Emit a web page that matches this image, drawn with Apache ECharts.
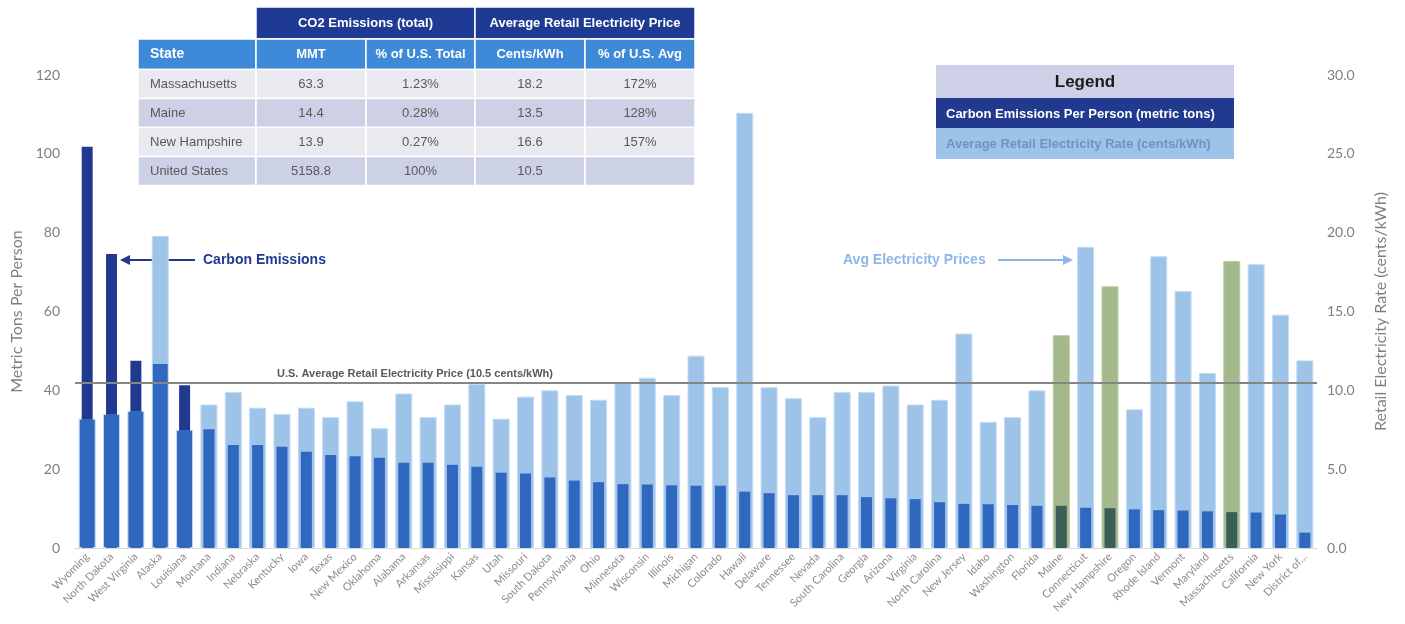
<!DOCTYPE html>
<html>
<head>
<meta charset="utf-8">
<script src="https://cdn.jsdelivr.net/npm/echarts@6/dist/echarts.min.js"></script>
<style>
  html, body { margin: 0; padding: 0; background: #fff; }
  #main { width: 1405px; height: 624px; }
</style>
</head>
<body>
<div id="main"></div>
<script>
var states = ['Wyoming', 'North Dakota', 'West Virginia', 'Alaska', 'Louisiana', 'Montana', 'Indiana', 'Nebraska', 'Kentucky', 'Iowa',
  'Texas', 'New Mexico', 'Oklahoma', 'Alabama', 'Arkansas', 'Mississippi', 'Kansas', 'Utah', 'Missouri', 'South Dakota',
  'Pennsylvania', 'Ohio', 'Minnesota', 'Wisconsin', 'Illinois', 'Michigan', 'Colorado', 'Hawaii', 'Delaware', 'Tennessee',
  'Nevada', 'South Carolina', 'Georgia', 'Arizona', 'Virginia', 'North Carolina', 'New Jersey', 'Idaho', 'Washington', 'Florida',
  'Maine', 'Connecticut', 'New Hampshire', 'Oregon', 'Rhode Island', 'Vermont', 'Maryland', 'Massachusetts', 'California', 'New York',
  'District of...']

// metric tons per person (left axis)
var emissions = [101.8, 74.6, 47.5, 46.6, 41.3, 30.1, 26.1, 26.1, 25.7, 24.4,
  23.6, 23.3, 22.9, 21.6, 21.6, 21.1, 20.6, 19.1, 18.9, 17.9,
  17.1, 16.7, 16.2, 16.1, 15.9, 15.8, 15.8, 14.3, 13.9, 13.4,
  13.4, 13.4, 12.9, 12.6, 12.4, 11.6, 11.2, 11.1, 10.9, 10.7,
  10.7, 10.2, 10.1, 9.8, 9.6, 9.5, 9.3, 9.1, 9.0, 8.5,
  3.9]

// cents/kWh (right axis)
var prices = [8.2, 8.5, 8.7, 19.8, 7.5, 9.1, 9.9, 8.9, 8.5, 8.9,
  8.3, 9.3, 7.6, 9.8, 8.3, 9.1, 10.4, 8.2, 9.6, 10.0,
  9.7, 9.4, 10.5, 10.8, 9.7, 12.2, 10.2, 27.6, 10.2, 9.5,
  8.3, 9.9, 9.9, 10.3, 9.1, 9.4, 13.6, 8.0, 8.3, 10.0,
  13.5, 19.1, 16.6, 8.8, 18.5, 16.3, 11.1, 18.2, 18.0, 14.8,
  11.9]

var usAvgPrice = 10.5
var highlighted = ['Maine', 'New Hampshire', 'Massachusetts']

var leftTicks = [0, 20, 40, 60, 80, 100, 120]
var rightTicks = [0, 5, 10, 15, 20, 25, 30]

// table shown in the upper left
var tableGroups = ['CO2 Emissions (total)', 'Average Retail Electricity Price']
var tableHeads = ['State', 'MMT', '% of U.S. Total', 'Cents/kWh', '% of U.S. Avg']
var tableRows = [
  ['Massachusetts', '63.3', '1.23%', '18.2', '172%'],
  ['Maine', '14.4', '0.28%', '13.5', '128%'],
  ['New Hampshire', '13.9', '0.27%', '16.6', '157%'],
  ['United States', '5158.8', '100%', '10.5', '']
]

var NAVY = '#21398f'
var MID = '#3068c0'
var LIGHT = '#9dc3e8'
var EDGE = '#c4dbf2'
var GREEN = '#a3b98b'
var DKGREEN = '#3b5f58'
var FONT = "'Liberation Sans Narrow', 'Liberation Sans', Arial, sans-serif"
var AXFONT = 'Lato, "Open Sans", sans-serif'

function split (top, bottom, f) {
  return {
    type: 'linear', x: 0, y: 0, x2: 0, y2: 1,
    colorStops: [
      {offset: 0, color: top}, {offset: f, color: top},
      {offset: f, color: bottom}, {offset: 1, color: bottom}
    ]
  }
}

// price scale (30) vs emissions scale (120)
var ratio = 120 / 30

var priceData = prices.map(function (p, i) {
  var green = highlighted.indexOf(states[i]) >= 0
  var color = green ? GREEN : LIGHT
  if (!green && emissions[i] >= 40) {
    var f = 1 - Math.min(emissions[i] / ratio, p) / p
    color = split(LIGHT, MID, f)
  }
  return {value: p, itemStyle: {color: color, borderColor: green ? '#bccda9' : EDGE}}
})

var emisData = emissions.map(function (e, i) {
  var green = highlighted.indexOf(states[i]) >= 0
  var f = 1 - Math.min(prices[i] * ratio, e) / e
  var color = green ? DKGREEN : (f > 0 ? split(NAVY, MID, f) : MID)
  return {value: e, itemStyle: {color: color}}
})

// table graphics
var tg = []
var colX = [138, 256, 366, 475, 585, 695]
var rowY = [7, 39, 69.5, 98.5, 127.5, 156.5, 185.5]
function cell (x, y, w, h, fill) {
  tg.push({type: 'rect', shape: {x: x, y: y, width: w, height: h}, style: {fill: fill, stroke: '#fff', lineWidth: 1.5}})
}
function txt (x, y, s, opt) {
  tg.push({type: 'text', x: x, y: y, style: Object.assign({text: s, font: '13px ' + FONT, fill: '#595959', align: 'center', verticalAlign: 'middle'}, opt || {})})
}
cell(colX[1], rowY[0], colX[3] - colX[1], rowY[1] - rowY[0], '#1f3a93')
cell(colX[3], rowY[0], colX[5] - colX[3], rowY[1] - rowY[0], '#1f3a93')
txt((colX[1] + colX[3]) / 2, (rowY[0] + rowY[1]) / 2, tableGroups[0], {fill: '#fff', font: 'bold 13px ' + FONT})
txt((colX[3] + colX[5]) / 2, (rowY[0] + rowY[1]) / 2, tableGroups[1], {fill: '#fff', font: 'bold 13px ' + FONT})
tableHeads.forEach(function (h, c) {
  cell(colX[c], rowY[1], colX[c + 1] - colX[c], rowY[2] - rowY[1], '#3e8ad8')
  var cx = c === 0 ? colX[0] + 12 : (colX[c] + colX[c + 1]) / 2
  txt(cx, (rowY[1] + rowY[2]) / 2, h, {fill: '#fff', font: 'bold ' + (c === 0 ? 14 : 13) + 'px ' + FONT, align: c === 0 ? 'left' : 'center'})
})
tableRows.forEach(function (row, r) {
  var fill = r % 2 === 0 ? '#e9e9f0' : '#cdd1e6'
  row.forEach(function (v, c) {
    cell(colX[c], rowY[r + 2], colX[c + 1] - colX[c], rowY[r + 3] - rowY[r + 2], fill)
    var cx = c === 0 ? colX[0] + 12 : (colX[c] + colX[c + 1]) / 2
    txt(cx, (rowY[r + 2] + rowY[r + 3]) / 2, v, {align: c === 0 ? 'left' : 'center'})
  })
})

// legend box
tg.push({type: 'rect', shape: {x: 936, y: 65, width: 298, height: 33}, style: {fill: '#cdd0e6'}})
tg.push({type: 'rect', shape: {x: 936, y: 98, width: 298, height: 30}, style: {fill: NAVY}})
tg.push({type: 'rect', shape: {x: 936, y: 128, width: 298, height: 31}, style: {fill: LIGHT}})
txt(1085, 82, 'Legend', {fill: '#1a1a1a', font: 'bold 17px ' + FONT})
txt(946, 114, 'Carbon Emissions Per Person (metric tons)', {fill: '#fff', font: 'bold 13px ' + FONT, align: 'left'})
txt(946, 144, 'Average Retail Electricity Rate (cents/kWh)', {fill: '#6f93c4', font: 'bold 13px ' + FONT, align: 'left'})

// annotations
txt(203, 260, 'Carbon Emissions', {fill: NAVY, font: 'bold 14px ' + FONT, align: 'left'})
tg.push({type: 'line', shape: {x1: 195, y1: 260, x2: 127, y2: 260}, style: {stroke: NAVY, lineWidth: 2}})
tg.push({type: 'polygon', shape: {points: [[120, 260], [130, 255], [130, 265]]}, style: {fill: NAVY}})
txt(843, 260, 'Avg Electricity Prices', {fill: '#8db8e6', font: 'bold 14px ' + FONT, align: 'left'})
tg.push({type: 'line', shape: {x1: 998, y1: 260, x2: 1066, y2: 260}, style: {stroke: '#8db8e6', lineWidth: 2}})
tg.push({type: 'polygon', shape: {points: [[1073, 260], [1063, 255], [1063, 265]]}, style: {fill: '#8db8e6'}})
txt(415, 374, 'U.S. Average Retail Electricity Price (10.5 cents/kWh)', {fill: '#595959', font: 'bold 11px ' + FONT})

var myChart = echarts.init(document.getElementById('main'))
var option = {
  animation: false,
  grid: {left: 75, right: 88, top: 75, bottom: 76},
  xAxis: [
    {
      type: 'category',
      data: states,
      axisLine: {lineStyle: {color: '#d9d9d9'}},
      axisTick: {show: false},
      axisLabel: {interval: 0, rotate: 45, fontSize: 11, color: '#8c8c8c', fontFamily: AXFONT, margin: 7}
    },
    {type: 'category', data: states, show: false}
  ],
  yAxis: [
    {
      type: 'value',
      min: leftTicks[0],
      max: leftTicks[leftTicks.length - 1],
      interval: 20,
      name: 'Metric Tons Per Person',
      nameLocation: 'middle',
      nameGap: 50,
      nameTextStyle: {fontSize: 16, color: '#7f7f7f', fontFamily: AXFONT},
      splitLine: {show: false},
      axisLabel: {fontSize: 14, color: '#7f7f7f', fontFamily: AXFONT, margin: 15}
    },
    {
      type: 'value',
      min: rightTicks[0],
      max: rightTicks[rightTicks.length - 1],
      interval: 5,
      name: 'Retail Electricity Rate (cents/kWh)',
      nameLocation: 'middle',
      nameGap: 56,
      nameTextStyle: {fontSize: 16, color: '#7f7f7f', fontFamily: AXFONT},
      splitLine: {show: false},
      axisLabel: {fontSize: 14, color: '#7f7f7f', fontFamily: AXFONT, margin: 10, formatter: function (v) { return v.toFixed(1) }}
    }
  ],
  series: [
    {
      name: 'Average Retail Electricity Rate (cents/kWh)',
      type: 'bar',
      xAxisIndex: 0,
      yAxisIndex: 1,
      barWidth: 17,
      z: 2,
      itemStyle: {borderWidth: 1},
      data: priceData,
      markLine: {
        silent: true,
        symbol: 'none',
        label: {show: false},
        lineStyle: {color: '#858585', width: 2, type: 'solid'},
        data: [{yAxis: usAvgPrice}]
      }
    },
    {
      name: 'Carbon Emissions Per Person (metric tons)',
      type: 'bar',
      xAxisIndex: 1,
      yAxisIndex: 0,
      barWidth: 11,
      z: 3,
      data: emisData
    }
  ],
  graphic: tg
}
option && myChart.setOption(option)
</script>
</body>
</html>
